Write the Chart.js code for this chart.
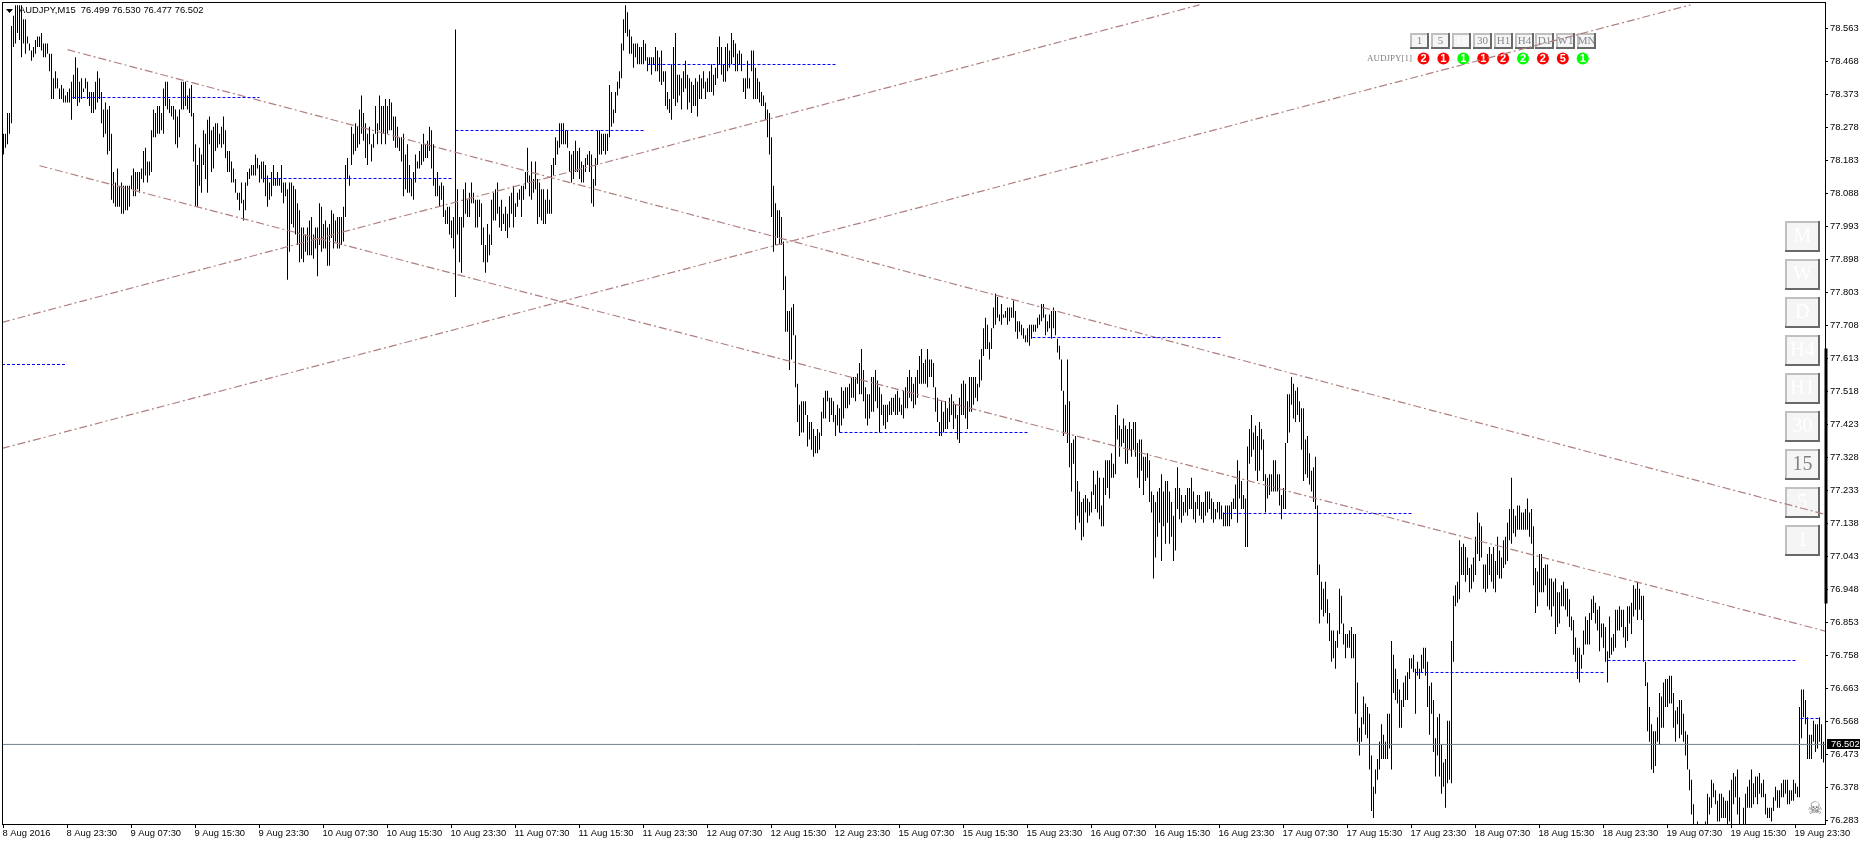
<!DOCTYPE html>
<html>
<head>
<meta charset="utf-8">
<title>AUDJPY,M15</title>
<script src="https://cdn.jsdelivr.net/npm/chart.js@4"></script>
<style>
    html, body { margin: 0; padding: 0; background: #fff; overflow: hidden; }
    canvas { display: block; }
</style>
</head>
<body>
<canvas id="priceChart" width="1865" height="845"></canvas>
<script>
// Labels on the time axis, one every 32 bars
var timeLabels = [
    '8 Aug 2016', '8 Aug 23:30', '9 Aug 07:30', '9 Aug 15:30', '9 Aug 23:30', '10 Aug 07:30',
    '10 Aug 15:30', '10 Aug 23:30', '11 Aug 07:30', '11 Aug 15:30', '11 Aug 23:30', '12 Aug 07:30',
    '12 Aug 15:30', '12 Aug 23:30', '15 Aug 07:30', '15 Aug 15:30', '15 Aug 23:30', '16 Aug 07:30',
    '16 Aug 15:30', '16 Aug 23:30', '17 Aug 07:30', '17 Aug 15:30', '17 Aug 23:30', '18 Aug 07:30',
    '18 Aug 15:30', '18 Aug 23:30', '19 Aug 07:30', '19 Aug 15:30', '19 Aug 23:30'
];

// Labels on the price axis
var priceLabels = [
    76.283, 76.378, 76.473, 76.568, 76.663, 76.758, 76.853, 76.948, 77.043, 77.138, 77.233, 77.328, 77.423,
    77.518, 77.613, 77.708, 77.803, 77.898, 77.993, 78.088, 78.183, 78.278, 78.373, 78.468, 78.563
];

// M15 bar highs
var barHighs = [
    78.26,78.26,78.32,78.32,78.57,78.60,78.63,78.63,78.63,78.63,78.59,78.59,78.54,78.52,78.50,78.51,
    78.53,78.54,78.54,78.55,78.52,78.52,78.52,78.49,78.49,78.42,78.44,78.42,78.39,78.40,78.39,78.37,
    78.38,78.39,78.41,78.43,78.48,78.45,78.41,78.42,78.39,78.42,78.41,78.38,78.38,78.38,78.41,78.44,
    78.42,78.38,78.33,78.35,78.33,78.34,78.26,78.15,78.12,78.16,78.11,78.12,78.11,78.11,78.11,78.11,
    78.14,78.16,78.15,78.15,78.15,78.16,78.21,78.22,78.18,78.18,78.27,78.33,78.32,78.34,78.34,78.32,
    78.39,78.41,78.41,78.36,78.34,78.34,78.33,78.31,78.33,78.41,78.41,78.41,78.37,78.39,78.40,78.32,
    78.23,78.17,78.22,78.20,78.27,78.26,78.30,78.31,78.27,78.28,78.29,78.29,78.26,78.28,78.31,78.27,
    78.21,78.21,78.18,78.16,78.13,78.09,78.09,78.12,78.07,78.12,78.15,78.16,78.17,78.17,78.20,78.19,
    78.17,78.18,78.18,78.17,78.14,78.12,78.15,78.17,78.13,78.15,78.13,78.17,78.12,78.12,78.10,78.12,
    78.12,78.11,78.10,78.06,78.04,77.99,77.99,77.97,77.99,78.01,78.02,77.97,77.99,77.99,78.06,78.05,
    78.00,78.01,77.99,78.00,78.04,78.03,78.01,78.02,78.02,78.02,78.05,78.17,78.19,78.14,78.28,78.26,
    78.29,78.28,78.33,78.37,78.32,78.29,78.26,78.28,78.23,78.26,78.34,78.29,78.37,78.34,78.34,78.36,
    78.34,78.36,78.35,78.31,78.31,78.28,78.25,78.25,78.26,78.20,78.23,78.17,78.13,78.15,78.20,78.18,
    78.21,78.23,78.26,78.23,78.24,78.28,
    78.27,78.23,78.13,78.15,78.11,78.12,78.11,78.04,78.05,78.05,78.01,78.02,78.56,78.10,78.02,78.02,
    78.10,78.12,78.07,78.09,78.12,78.09,78.07,78.07,78.07,78.06,77.99,77.94,78.00,77.97,78.07,78.09,
    78.10,78.12,78.05,78.07,78.03,78.05,78.03,78.08,78.09,78.11,78.06,78.09,78.10,78.11,78.11,78.15,
    78.22,78.14,78.18,78.13,78.18,78.13,78.12,78.10,78.10,78.07,78.10,78.07,78.17,78.19,78.25,78.24,
    78.29,78.29,78.29,78.27,78.27,78.21,78.20,78.21,78.24,78.21,78.22,78.18,78.17,78.19,78.20,78.21,
    78.20,78.13,78.19,78.27,78.27,78.26,78.26,78.26,78.26,78.40,78.38,78.33,78.38,78.41,78.44,78.52,
    78.59,78.63,78.61,78.56,78.54,78.52,78.52,78.52,78.51,78.51,78.53,78.52,78.48,78.48,78.48,78.48,
    78.51,78.50,78.48,78.50,78.44,78.44,78.38,78.36,78.46,78.51,78.55,78.43,78.43,78.42,78.44,78.47,
    78.43,78.42,78.41,78.40,78.42,78.41,78.43,78.42,78.44,78.41,78.42,78.44,78.46,78.43,78.45,78.51,
    78.54,78.51,78.46,78.51,78.52,78.50,78.55,78.53,78.52,78.49,78.50,78.49,78.42,78.42,78.47,78.42,
    78.50,78.50,78.45,78.42,78.41,78.38,78.37,78.35,78.33,78.32,78.25,78.11,78.06,78.04,78.04,78.02,
    77.95,77.85,
    77.75,77.75,77.76,77.77,77.68,77.54,77.48,77.49,77.49,77.49,77.45,77.43,77.43,77.41,77.39,77.41,
    77.40,77.46,77.50,77.52,77.52,77.50,77.50,77.49,77.45,77.48,77.47,77.53,77.52,77.53,77.53,77.54,
    77.56,77.56,77.56,77.57,77.60,77.64,77.58,77.53,77.51,77.51,77.56,77.56,77.58,77.55,77.53,77.51,
    77.48,77.48,77.48,77.49,77.50,77.50,77.51,77.52,77.50,77.48,77.52,77.53,77.56,77.58,77.56,77.54,
    77.56,77.58,77.62,77.64,77.60,77.61,77.64,77.61,77.61,77.60,77.53,77.50,77.43,77.49,77.46,77.49,
    77.47,77.50,77.51,77.49,77.48,77.45,77.50,77.54,77.55,77.54,77.49,77.56,77.56,77.56,77.56,77.54,
    77.61,77.64,77.70,77.73,77.71,77.66,77.70,77.76,77.80,77.79,77.74,77.77,77.74,77.75,77.76,77.76,
    77.76,77.78,77.75,77.72,77.72,77.71,77.70,77.68,77.70,77.71,77.71,77.71,77.71,77.73,77.74,77.77,
    77.77,77.74,77.72,77.74,77.75,77.76,77.75,77.67,77.65,77.61,77.52,77.48,77.61,77.49,
    77.37,77.38,77.39,77.26,77.23,77.20,77.21,77.22,77.21,77.20,77.23,77.29,77.25,77.29,77.27,77.19,
    77.27,77.32,77.32,77.32,77.34,77.31,77.45,77.48,77.42,77.41,77.44,77.42,77.41,77.43,77.41,77.43,
    77.43,77.37,77.38,77.38,77.33,77.33,77.34,77.32,77.23,77.22,77.20,77.23,77.24,77.28,77.23,77.26,
    77.26,77.23,77.20,77.16,77.24,77.30,77.24,77.22,77.20,77.22,77.24,77.24,77.27,77.23,77.20,77.22,
    77.22,77.20,77.20,77.23,77.23,77.23,77.21,77.20,77.18,77.20,77.20,77.19,77.17,77.19,77.19,77.19,
    77.20,77.21,77.25,77.32,77.29,77.26,77.22,77.21,77.36,77.41,77.45,77.40,77.42,77.39,77.43,77.41,
    77.38,77.28,77.27,77.28,77.28,77.32,77.32,77.28,77.28,77.22,77.24,77.37,77.51,77.51,77.56,77.54,
    77.52,77.53,77.49,77.47,77.47,77.38,77.39,77.34,77.29,77.30,77.33,77.19,
    77.02,76.97,76.95,76.97,76.92,76.88,76.83,76.83,76.80,76.83,76.95,76.93,76.85,76.82,76.82,76.83,
    76.84,76.82,76.82,76.68,76.55,76.58,76.64,76.62,76.61,76.59,76.47,76.38,76.43,76.46,76.51,76.56,
    76.53,76.51,76.59,76.59,76.80,76.76,76.72,76.69,76.66,76.63,76.68,76.70,76.71,76.75,76.75,76.76,
    76.72,76.74,76.72,76.76,76.78,76.78,76.74,76.67,76.68,76.63,76.52,76.58,76.59,76.50,76.45,76.46,
    76.57,76.57,76.80,76.93,76.96,76.97,77.09,77.07,77.08,77.07,77.04,77.01,77.02,77.04,77.10,77.17,
    77.14,77.13,77.02,77.02,77.05,77.07,77.05,77.07,77.03,77.10,77.06,77.04,77.09,77.10,77.14,77.18,
    77.27,77.18,77.16,77.19,77.19,77.17,77.17,77.18,77.21,77.17,77.18,77.13,77.01,77.00,77.05,77.05,
    77.01,77.02,77.02,76.98,76.98,76.97,76.98,76.94,76.94,76.96,76.97,76.95,76.95,76.92,76.87,76.86,
    76.81,76.78,76.78,76.76,76.83,76.87,76.86,76.88,76.92,76.93,76.91,76.89,76.90,76.85,76.85,76.84,
    76.77,76.87,76.81,76.82,76.89,76.89,76.90,
    76.89,76.89,76.84,76.90,76.90,76.91,76.96,76.95,76.97,76.95,76.93,76.93,76.74,76.68,76.61,76.56,
    76.54,76.54,76.58,76.65,76.64,76.68,76.69,76.69,76.70,76.70,76.65,76.60,76.61,76.63,76.63,76.59,
    76.54,76.53,76.43,76.40,76.33,76.27,76.28,76.26,76.26,76.26,76.28,76.36,76.35,76.40,76.39,76.37,
    76.34,76.36,76.36,76.35,76.34,76.34,76.37,76.40,76.42,76.41,76.43,76.35,76.27,76.32,76.36,76.38,
    76.40,76.43,76.39,76.41,76.41,76.42,76.39,76.40,76.36,76.32,76.32,76.32,76.35,76.38,76.37,76.37,
    76.39,76.40,76.40,76.40,76.37,76.37,76.40,76.39,76.38,76.61,76.66,76.66,76.63,76.58,76.53,76.53,
    76.57,76.56,76.56,76.58,76.56,76.51
];

// M15 bar lows, same order as barHighs
var barLows = [
    78.20,78.22,78.23,78.26,78.29,78.51,78.52,78.55,78.53,78.48,78.52,78.49,78.52,78.50,78.47,78.48,
    78.49,78.51,78.51,78.50,78.48,78.48,78.49,78.44,78.36,78.36,78.39,78.39,78.36,78.36,78.35,78.35,
    78.35,78.35,78.30,78.36,78.36,78.34,78.35,78.36,78.38,78.39,78.36,78.34,78.32,78.32,78.33,78.35,
    78.36,78.29,78.25,78.26,78.20,78.21,78.07,78.06,78.05,78.05,78.05,78.03,78.03,78.04,78.04,78.05,
    78.10,78.08,78.08,78.10,78.09,78.13,78.12,78.14,78.12,78.14,78.15,78.25,78.25,78.26,78.26,78.27,
    78.26,78.34,78.33,78.32,78.31,78.30,78.23,78.22,78.25,78.33,78.33,78.34,78.33,78.32,78.31,78.18,
    78.05,78.05,78.11,78.09,78.17,78.13,78.09,78.23,78.15,78.16,78.21,78.22,78.23,78.22,78.23,78.19,
    78.15,78.15,78.12,78.12,78.09,78.07,78.04,78.06,78.01,78.04,78.11,78.13,78.14,78.14,78.14,78.16,
    78.12,78.13,78.12,78.08,78.05,78.07,78.08,78.11,78.11,78.11,78.11,78.09,78.06,78.08,77.84,77.92,
    78.00,77.99,77.97,77.94,77.89,77.90,77.89,77.92,77.91,77.91,77.91,77.90,77.93,77.85,77.94,77.92,
    77.93,77.93,77.88,77.88,77.96,77.93,77.95,77.93,77.93,77.94,77.95,78.02,78.13,78.11,78.17,78.20,
    78.21,78.22,78.23,78.26,78.24,78.19,78.17,78.23,78.18,78.22,78.26,78.23,78.27,78.23,78.26,78.23,
    78.26,78.27,78.27,78.24,78.22,78.22,78.21,78.18,78.08,78.10,78.09,78.09,78.08,78.07,78.12,78.16,
    78.16,78.17,78.18,78.19,78.19,78.21,
    78.16,78.11,78.08,78.08,78.05,78.07,78.02,78.00,78.00,77.97,77.96,77.93,77.79,77.97,77.89,77.86,
    77.99,78.03,78.02,78.02,78.06,78.06,77.99,77.99,78.02,77.94,77.89,77.86,77.89,77.91,77.94,78.01,
    78.01,78.03,77.99,77.98,78.00,77.98,77.96,77.99,78.03,77.99,78.02,78.05,78.07,78.02,78.07,78.10,
    78.12,78.08,78.07,78.09,78.10,78.00,78.02,78.01,78.00,78.00,78.03,78.03,78.03,78.14,78.17,78.20,
    78.22,78.23,78.23,78.23,78.22,78.15,78.12,78.13,78.15,78.15,78.13,78.12,78.12,78.15,78.17,78.15,
    78.06,78.05,78.11,78.17,78.20,78.20,78.21,78.20,78.21,78.25,78.28,78.29,78.32,78.37,78.39,78.42,
    78.50,78.55,78.54,78.49,78.49,78.45,78.48,78.46,78.46,78.46,78.46,78.47,78.44,78.46,78.43,78.46,
    78.44,78.44,78.41,78.40,78.41,78.34,78.33,78.32,78.30,78.36,78.34,78.35,78.37,78.33,78.38,78.39,
    78.33,78.35,78.32,78.34,78.34,78.31,78.36,78.36,78.39,78.36,78.38,78.38,78.38,78.37,78.40,78.42,
    78.46,78.43,78.41,78.41,78.44,78.45,78.46,78.48,78.44,78.44,78.46,78.44,78.38,78.36,78.39,78.39,
    78.44,78.36,78.36,78.36,78.35,78.34,78.34,78.30,78.25,78.20,78.02,77.92,77.94,77.96,77.94,77.94,
    77.81,77.69,
    77.69,77.58,77.61,77.68,77.53,77.43,77.39,77.40,77.40,77.45,77.36,77.38,77.35,77.33,77.34,77.34,
    77.35,77.39,77.44,77.44,77.49,77.43,77.45,77.43,77.39,77.42,77.40,77.42,77.44,77.47,77.47,77.48,
    77.50,77.50,77.49,77.54,77.51,77.51,77.49,77.44,77.42,77.44,77.46,77.46,77.49,77.47,77.40,77.45,
    77.42,77.41,77.43,77.45,77.45,77.46,77.45,77.45,77.46,77.45,77.44,77.47,77.47,77.50,77.49,77.47,
    77.48,77.50,77.54,77.54,77.54,77.54,77.53,77.56,77.56,77.53,77.46,77.43,77.39,77.39,77.40,77.41,
    77.41,77.43,77.45,77.41,77.44,77.38,77.37,77.45,77.45,77.44,77.41,77.46,77.46,77.48,77.50,77.49,
    77.53,77.55,77.62,77.64,77.64,77.61,77.64,77.70,77.71,77.73,77.72,77.71,77.73,77.73,77.71,77.72,
    77.73,77.73,77.69,77.67,77.69,77.68,77.67,77.66,77.66,77.65,77.67,77.69,77.69,77.70,77.71,77.72,
    77.73,77.68,77.69,77.70,77.67,77.70,77.68,77.63,77.61,77.52,77.39,77.40,77.37,77.30,
    77.23,77.31,77.12,77.16,77.14,77.09,77.10,77.17,77.14,77.16,77.17,77.22,77.18,77.17,77.15,77.13,
    77.13,77.22,77.24,77.21,77.27,77.27,77.28,77.38,77.33,77.36,77.37,77.31,77.31,77.35,77.33,77.35,
    77.33,77.27,77.24,77.29,77.22,77.26,77.27,77.20,77.17,76.98,77.04,77.10,77.14,77.03,77.13,77.08,
    77.14,77.08,77.10,77.03,77.06,77.18,77.15,77.14,77.16,77.17,77.16,77.18,77.18,77.15,77.14,77.18,
    77.16,77.15,77.14,77.16,77.17,77.18,77.15,77.14,77.15,77.17,77.15,77.15,77.13,77.13,77.13,77.13,
    77.15,77.18,77.18,77.14,77.21,77.18,77.18,77.07,77.07,77.31,77.33,77.35,77.29,77.26,77.29,77.35,
    77.26,77.17,77.21,77.22,77.23,77.23,77.23,77.23,77.19,77.15,77.18,77.18,77.37,77.40,77.48,77.44,
    77.43,77.45,77.43,77.35,77.26,77.28,77.27,77.25,77.23,77.20,77.18,76.99,
    76.85,76.89,76.87,76.88,76.85,76.80,76.74,76.75,76.72,76.78,76.82,76.85,76.79,76.75,76.78,76.78,
    76.75,76.75,76.59,76.51,76.47,76.51,76.56,76.53,76.52,76.43,76.31,76.29,76.36,76.40,76.43,76.46,
    76.46,76.46,76.46,76.49,76.43,76.65,76.63,76.62,76.55,76.55,76.61,76.63,76.63,76.69,76.72,76.71,
    76.59,76.70,76.69,76.71,76.72,76.70,76.61,76.53,76.59,76.48,76.41,76.47,76.41,76.36,76.38,76.32,
    76.39,76.40,76.39,76.74,76.90,76.91,76.92,76.99,76.99,76.97,76.99,76.94,76.95,76.97,76.99,77.05,
    77.03,77.04,76.95,76.94,76.95,76.99,76.97,76.95,76.94,76.99,76.98,76.98,77.01,77.02,77.03,77.09,
    77.08,77.11,77.10,77.12,77.12,77.12,77.12,77.12,77.12,77.10,77.08,76.96,76.88,76.90,76.94,76.94,
    76.94,76.96,76.90,76.89,76.87,76.90,76.82,76.84,76.85,76.90,76.90,76.89,76.87,76.84,76.83,76.76,
    76.74,76.69,76.68,76.72,76.76,76.79,76.79,76.79,76.86,76.88,76.85,76.83,76.77,76.81,76.78,76.74,
    76.68,76.75,76.76,76.77,76.78,76.83,76.83,
    76.84,76.81,76.78,76.80,76.85,76.82,76.87,76.89,76.86,76.89,76.86,76.74,76.67,76.54,76.51,76.43,
    76.42,76.44,76.51,76.50,76.55,76.55,76.61,76.61,76.62,76.62,76.55,76.51,76.56,76.52,76.53,76.51,
    76.47,76.43,76.37,76.30,76.27,76.23,76.23,76.23,76.23,76.23,76.23,76.25,76.30,76.32,76.35,76.33,
    76.28,76.28,76.29,76.29,76.29,76.25,76.28,76.25,76.33,76.35,76.30,76.25,76.23,76.25,76.27,76.32,
    76.32,76.32,76.33,76.35,76.33,76.36,76.35,76.35,76.30,76.29,76.29,76.28,76.31,76.34,76.32,76.32,
    76.35,76.35,76.36,76.33,76.33,76.34,76.34,76.36,76.35,76.35,76.52,76.58,76.56,76.46,76.46,76.46,
    76.51,76.48,76.49,76.51,76.46,76.45
];

// Dashed blue levels: price plus first and last bar
var levelPrices = [78.3644, 78.1312, 78.2694, 78.4594, 77.5957, 77.4000, 77.6734, 77.1668, 76.7091, 76.7436, 76.5766];
var levelStarts = [34.5, 130, 226, 322, -0.75, 418, 514.5, 610, 706, 802, 898.5];
var levelEnds = [128, 224, 320, 416, 31.5, 512, 608.5, 704, 800, 896, 908.5];

// Trend lines: [bar, price] at both ends
var trendStartBars = [32, 18, -0.75, -0.75];
var trendStartPrices = [78.502, 78.168, 77.717, 77.354];
var trendEndBars = [911, 911, 598, 843.5];
var trendEndPrices = [77.164, 76.828, 78.631, 78.631];

// Current bid and the thick marker on the price axis
var bidPrice = 76.502;
var sideMarkPrices = [77.642, 76.908];

// Text of the on-chart panels
var topButtons = ['1', '5', '15', '30', 'H1', 'H4', 'D1', 'W1', 'MN'];
var signalCounts = ['2', '1', '1', '1', '2', '2', '2', '5', '1'];
var signalColors = ['#ff0000', '#ff0000', '#00ff00', '#ff0000', '#ff0000', '#00ff00', '#ff0000', '#ff0000', '#00ff00'];
var sideButtons = ['M', 'W', 'D', 'H4', 'H1', '30', '15', '5', '1'];

var axisFont = { family: '"Liberation Sans", sans-serif', size: 9.4 };

document.addEventListener('DOMContentLoaded', function() {
    var ctx = document.getElementById('priceChart').getContext('2d');
    var datasets = [];

    // Current bid line
    datasets.push(lineSet([{ x: -0.75, y: bidPrice }, { x: 911, y: bidPrice }], '#708090', [], 1));

    // Dashed levels
    levelPrices.forEach(function(price, i) {
        datasets.push(lineSet([{ x: levelStarts[i], y: price }, { x: levelEnds[i], y: price }], '#0000ff', [3, 2], 1));
    });

    // Trend lines
    trendStartBars.forEach(function(bar, i) {
        datasets.push(lineSet([
            { x: bar, y: trendStartPrices[i] },
            { x: trendEndBars[i], y: trendEndPrices[i] }
        ], '#b08080', [8, 3, 2, 3], 1.2));
    });

    // Thick marker sitting on the price axis
    var sideMark = lineSet([{ x: 911.25, y: sideMarkPrices[0] }, { x: 911.25, y: sideMarkPrices[1] }], '#000', [], 3);
    sideMark.clip = false;
    datasets.push(sideMark);

    // The bars themselves, high to low with no open or close ticks
    var barData = [];
    for (var i = 0; i < barHighs.length; i++) {
        barData.push({ x: i, y: [barLows[i], barHighs[i]] });
    }
    datasets.push({
        type: 'bar',
        data: barData,
        backgroundColor: '#000',
        borderWidth: 0,
        barThickness: 1,
        inflateAmount: 0
    });

    new Chart(ctx, {
        type: 'bar',
        data: { datasets: datasets },
        options: {
            responsive: false,
            animation: false,
            layout: { padding: { top: 2, left: 2, right: 0, bottom: 0 } },
            plugins: { legend: { display: false }, tooltip: { enabled: false } },
            scales: {
                x: {
                    type: 'linear',
                    offset: false,
                    min: -0.75,
                    max: 910.75,
                    grid: { drawOnChartArea: false, tickLength: 4, tickColor: '#000', offset: false },
                    border: { color: '#000', width: 1 },
                    ticks: {
                        autoSkip: false,
                        maxRotation: 0,
                        minRotation: 0,
                        align: 'start',
                        padding: 0,
                        labelOffset: -1,
                        color: '#000',
                        font: axisFont,
                        callback: function(value, index) { return timeLabels[index]; }
                    },
                    afterBuildTicks: function(scale) {
                        scale.ticks = timeLabels.map(function(label, k) { return { value: k * 32 }; });
                    },
                    afterFit: function(scale) {
                        scale.height = 21;
                        scale.paddingLeft = scale.paddingRight = 0;
                    }
                },
                y: {
                    position: 'right',
                    min: 76.2729,
                    max: 78.6393,
                    grid: { drawOnChartArea: false, tickLength: 3, tickColor: '#000' },
                    border: { color: '#000', width: 1 },
                    ticks: {
                        autoSkip: false,
                        padding: 2,
                        color: '#000',
                        font: axisFont,
                        callback: function(value) { return value.toFixed(3); }
                    },
                    afterBuildTicks: function(scale) {
                        scale.ticks = priceLabels.map(function(p) { return { value: p }; });
                    },
                    afterFit: function(scale) {
                        scale.width = 40;
                        scale.paddingTop = scale.paddingBottom = 0;
                    }
                }
            }
        },
        plugins: [{
            id: 'terminalPanels',
            beforeDatasetsDraw: function(chart) { drawPanels(chart.ctx); },
            afterDraw: function(chart) { drawFrame(chart); }
        }]
    });

    // One straight segment in value coordinates
    function lineSet(points, color, dash, width) {
        return {
            type: 'line',
            data: points,
            borderColor: color,
            borderWidth: width,
            borderDash: dash,
            pointRadius: 0,
            tension: 0,
            fill: false
        };
    }

    function drawButton(c, x, y, w, h, label, color, size) {
        c.fillStyle = '#f5f5f5';
        c.fillRect(x, y, w, h);
        c.fillStyle = '#c0c0c0';
        c.fillRect(x, y, w, 2);
        c.fillRect(x, y, 2, h);
        c.fillStyle = '#696969';
        c.fillRect(x, y + h - 2, w, 2);
        c.fillRect(x + w - 2, y, 2, h);
        c.fillStyle = color;
        c.font = size + 'px "Liberation Serif", serif';
        c.textAlign = 'center';
        c.textBaseline = 'middle';
        c.fillText(label, x + w / 2, y + h / 2);
    }

    function drawPanels(c) {
        c.save();
        // Row of timeframe buttons with their signal dots
        topButtons.forEach(function(label, i) {
            var x = 1410 + Math.round(i * 20.9);
            var dotX = 1423.5 + i * 19.9;
            drawButton(c, x, 33, 19, 16, label, i === 2 ? '#ffffff' : '#808890', 11);
            c.fillStyle = signalColors[i];
            c.beginPath();
            c.arc(dotX, 58.5, 6, 0, Math.PI * 2);
            c.fill();
            c.fillStyle = '#fff';
            c.font = 'bold 11px "Liberation Sans", sans-serif';
            c.fillText(signalCounts[i], dotX, 59);
        });
        c.fillStyle = '#808080';
        c.font = '9px "Liberation Serif", serif';
        c.textAlign = 'left';
        c.fillText('AUDJPY[1]', 1367, 59);

        // Column of buttons along the price axis
        sideButtons.forEach(function(label, i) {
            drawButton(c, 1785, 221 + i * 38, 35, 31, label, label === '15' ? '#808080' : '#ffffff', 20);
        });
        c.restore();
    }

    function drawFrame(chart) {
        var c = chart.ctx;
        var area = chart.chartArea;
        c.save();
        // Top and left edges of the chart window
        c.fillStyle = '#000';
        c.fillRect(area.left, area.top, area.right - area.left, 1);
        c.fillRect(area.left, area.top, 1, area.bottom - area.top);

        // Symbol line and the little drop-down triangle
        c.beginPath();
        c.moveTo(6, 9);
        c.lineTo(13, 9);
        c.lineTo(9.5, 13);
        c.closePath();
        c.fill();
        c.font = '9.4px "Liberation Sans", sans-serif';
        c.textAlign = 'left';
        c.textBaseline = 'middle';
        c.fillText('AUDJPY,M15  76.499 76.530 76.477 76.502', 19, 10);

        // Bid tag on the axis
        var y = chart.scales.y.getPixelForValue(bidPrice);
        c.fillRect(1827, Math.round(y) - 5, 33, 10);
        c.fillStyle = '#fff';
        c.fillText(bidPrice.toFixed(3), 1831, Math.round(y));

        // Skull glyph in the corner
        c.fillStyle = '#666';
        c.font = '17px "DejaVu Sans", sans-serif';
        c.textAlign = 'center';
        c.fillText('\u2620', 1815, 810);
        c.restore();
    }
});
</script>
</body>
</html>
